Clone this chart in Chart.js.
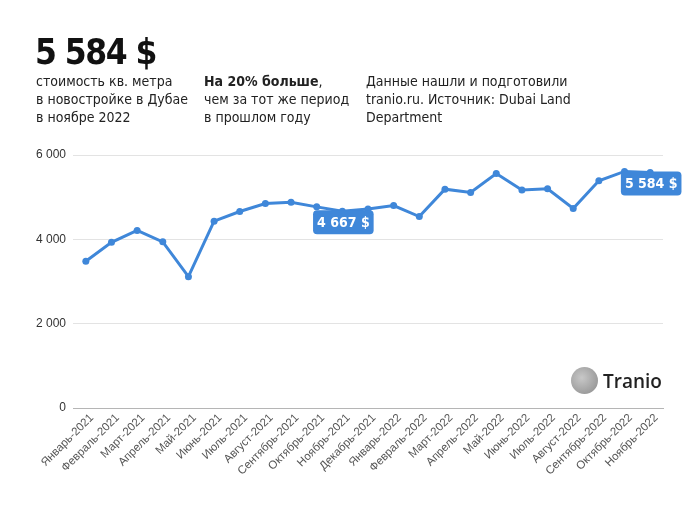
<!DOCTYPE html>
<html>
<head>
<meta charset="utf-8">
<script src="https://cdn.jsdelivr.net/npm/chart.js@4"></script>
<style>
  body { margin: 0; background: #fff; }
  #wrap { position: relative; width: 693px; height: 520px; font-family: "Liberation Sans Narrow", "DejaVu Sans Condensed", sans-serif; color: #222; }
  canvas { position: absolute; left: 0; top: 0; }
  .big { position: absolute; left: 35px; top: 32px; font-size: 35px; letter-spacing: -1.5px; font-weight: bold; color: #111; }
  .col { position: absolute; top: 72px; font-size: 14px; line-height: 18px; color: #222; }
  .logo { position: absolute; left: 571px; top: 367px; }
  .logo .ball { position: absolute; left: 0; top: 0; width: 27px; height: 27px; border-radius: 50%; background: radial-gradient(circle at 40% 40%, #c8c8c8, #8a8a8a); }
  .logo .name { position: absolute; left: 32px; top: 1px; font-size: 19px; font-family: "Open Sans", sans-serif; font-weight: 600; color: #222; }
</style>
</head>
<body>
<div id="wrap">
  <canvas id="priceChart" width="693" height="520"></canvas>
  <div class="big">5 584 $</div>
  <div class="col" style="left:36px">стоимость кв. метра<br>в новостройке в Дубае<br>в ноябре 2022</div>
  <div class="col" style="left:204px"><b>На 20% больше</b>,<br>чем за тот же период<br>в прошлом году</div>
  <div class="col" style="left:366px">Данные нашли и подготовили<br>tranio.ru. Источник: Dubai Land<br>Department</div>
  <div class="logo"><div class="ball"></div><div class="name">Tranio</div></div>
</div>
<script>
// price per sq. m, USD
const months = ['Январь-2021', 'Февраль-2021', 'Март-2021', 'Апрель-2021', 'Май-2021', 'Июнь-2021',
  'Июль-2021', 'Август-2021', 'Сентябрь-2021', 'Октябрь-2021', 'Ноябрь-2021', 'Декабрь-2021',
  'Январь-2022', 'Февраль-2022', 'Март-2022', 'Апрель-2022', 'Май-2022', 'Июнь-2022',
  'Июль-2022', 'Август-2022', 'Сентябрь-2022', 'Октябрь-2022', 'Ноябрь-2022'];
const prices = [3480, 3930, 4210, 3940, 3115, 4430, 4660, 4850, 4880, 4770, 4667, 4720,
  4800, 4540, 5190, 5110, 5560, 5170, 5200, 4730, 5390, 5610, 5584];
const yTicks = [0, 2000, 4000, 6000];
const labelled = [10, 22];

const blue = '#3f87d9';
const fmt = v => String(v).replace(/\B(?=(\d{3})+(?!\d))/g, ' ');

// blue value boxes under selected points
const valueBoxes = {
  id: 'valueBoxes',
  afterDatasetsDraw(chart) {
    const c = chart.ctx;
    const xs = chart.scales.x, ys = chart.scales.y;
    c.save();
    c.font = 'bold 14px "Liberation Sans Narrow", "DejaVu Sans Condensed", sans-serif';
    labelled.forEach(i => {
      const x = xs.getPixelForValue(i);
      const y = ys.getPixelForValue(prices[i]);
      const txt = fmt(prices[i]) + ' $';
      const w = c.measureText(txt).width + 8, h = 24;
      c.fillStyle = blue;
      c.beginPath();
      c.roundRect(x - w / 2 + 1, y - 1, w, h, 4);
      c.fill();
      c.fillStyle = '#fff';
      c.textAlign = 'center';
      c.textBaseline = 'middle';
      c.fillText(txt, x + 1, y - 1 + h / 2 + 1);
    });
    c.restore();
  }
};

new Chart(document.getElementById('priceChart'), {
  type: 'line',
  data: {
    labels: months,
    datasets: [{
      data: prices,
      borderColor: blue,
      backgroundColor: blue,
      borderWidth: 3,
      pointRadius: 3.5,
      pointBackgroundColor: blue,
      pointBorderWidth: 0,
      tension: 0
    }]
  },
  options: {
    responsive: false,
    animation: false,
    layout: { padding: { top: 155, left: 0, right: 30, bottom: 0 } },
    plugins: { legend: { display: false }, tooltip: { enabled: false } },
    scales: {
      x: {
        offset: true,
        grid: { display: false, drawTicks: false },
        border: { color: '#b5b5b5', width: 1 },
        ticks: {
          minRotation: 45, maxRotation: 45, autoSkip: false, padding: 3, labelOffset: 6,
          color: '#555', font: { size: 11.5, family: '"Liberation Sans", sans-serif' }
        },
        afterFit(s) { s.height = 112; }
      },
      y: {
        min: 0, max: 6000,
        afterBuildTicks(s) { s.ticks = yTicks.map(v => ({ value: v })); },
        grid: { color: ctx => ctx.tick.value === 0 ? '#b5b5b5' : '#e3e3e3', drawTicks: false },
        border: { display: false },
        ticks: { padding: 7, color: '#333', font: { size: 12, family: '"Liberation Sans", sans-serif' }, callback: v => fmt(v) },
        afterFit(s) { s.width = 73; }
      }
    }
  },
  plugins: [valueBoxes]
});
</script>
</body>
</html>
